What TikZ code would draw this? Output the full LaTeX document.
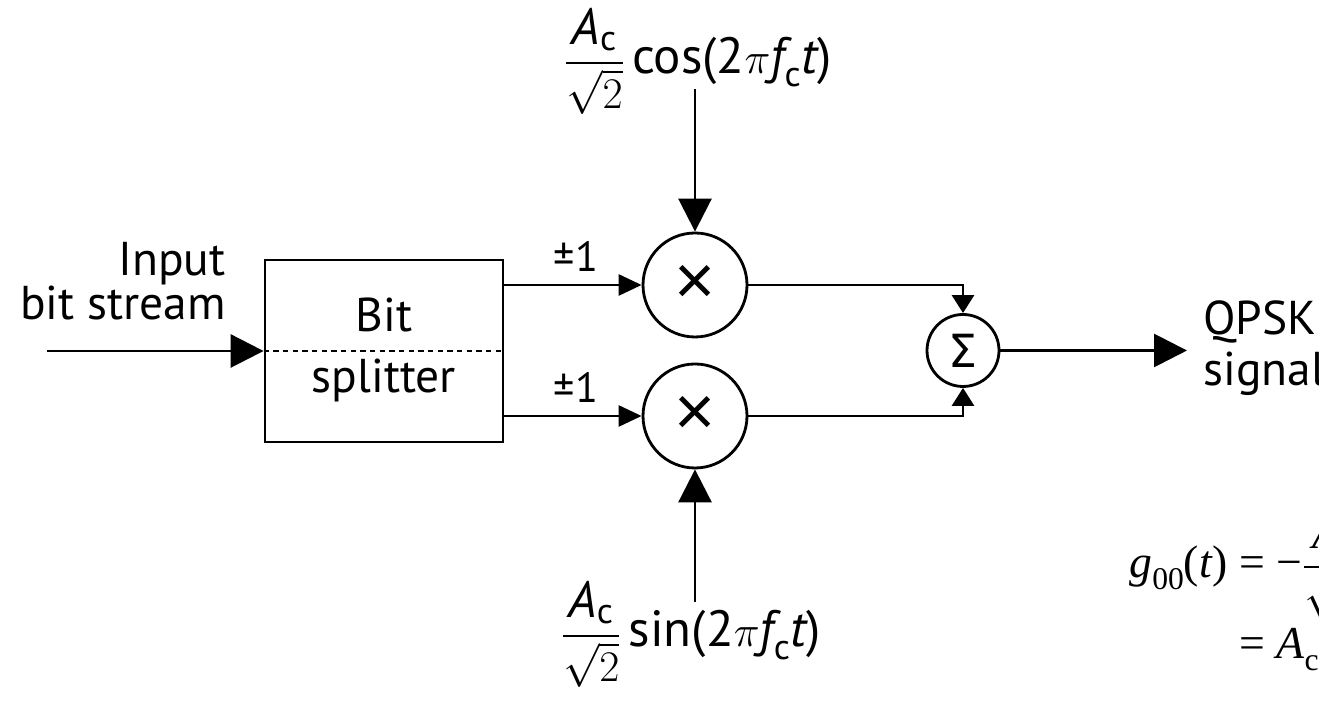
\documentclass[tikz,border=0pt]{standalone}
\usepackage{amsmath}
\usepackage{fontspec}
\setmainfont{PT Sans}
\newfontfamily\sigmafont{DejaVu Sans}
\newfontfamily\crossfont{Liberation Sans}
\newfontfamily\eqfont{Liberation Serif}
\newcommand{\eqsub}[1]{\raisebox{-0.25em}{\fontsize{18}{18}\selectfont #1}}
\usetikzlibrary{arrows.meta,positioning}

\begin{document}
\begin{tikzpicture}[
    line width=1.6pt,
    lbl/.style={inner sep=0pt, font=\fontsize{27}{25}\selectfont},
    sig/.style={inner sep=0pt, font=\fontsize{29}{29}\selectfont},
    eqn/.style={inner sep=0pt, font=\eqfont\fontsize{26}{26}\selectfont},
    mult/.style={circle, draw, minimum size=20.8mm, inner sep=0pt,
                 font=\crossfont\fontsize{40}{40}\selectfont},
    bigtip/.style={-{Triangle[length=6.6mm,width=6.6mm]}},
    smalltip/.style={-{Triangle[length=4.6mm,width=4.2mm]}},
    sumtip/.style={-{Triangle[length=3.6mm,width=4.4mm]}}
]
  \useasboundingbox (0,0) rectangle (26.38,14.04);
  \clip (0,0) rectangle (26.38,14.04);

  % blocks
  \node[draw, minimum width=47.6mm, minimum height=36.4mm] (split) at (7.68,7.02) {};
  \draw[line width=1pt, dash pattern=on 3pt off 2.5pt] (split.west) -- (split.east);
  \node[lbl, anchor=base] (bitl) at (7.68,7.4) {Bit};
  \node[lbl, anchor=base] (splitl) at (7.68,6.18) {splitter};
  \node[mult] (mcos) at (13.9,8.34) {×};
  \node[mult] (msin) at (13.9,5.72) {×};
  \node[circle, draw, minimum size=14.4mm, inner sep=0pt,
        font=\sigmafont\fontsize{26}{26}\selectfont] (sum) at (19.26,7.03) {Σ};

  % labels
  \node[lbl, align=right, anchor=south east] (inlbl) at (4.54,7.62) {Input\\bit stream};
  \node[lbl, align=left, anchor=north west] (outlbl) at (24.04,8.06) {QPSK\\[4pt]signal};
  \node[lbl, font=\fontsize{24}{24}\selectfont, anchor=base] (pmcos) at (11.52,8.6) {±1};
  \node[lbl, font=\fontsize{24}{24}\selectfont, anchor=base] (pmsin) at (11.52,5.98) {±1};
  \node[sig, anchor=base] (cosl) at (13.96,12.56)
    {$\dfrac{\textit{A}_{\text{c}}}{\sqrt{2}}\,\text{cos(2}\pi\textit{f}_{\text{c}}\textit{t}\text{)}$};
  \node[sig, anchor=base] (sinl) at (13.82,1.1)
    {$\dfrac{\textit{A}_{\text{c}}}{\sqrt{2}}\,\text{sin(2}\pi\textit{f}_{\text{c}}\textit{t}\text{)}$};

  \coordinate (inp) at (0.94,7.02);
  \coordinate (out) at (23.74,7.03);
  \coordinate (costop) at (13.9,12.26);
  \coordinate (sinbot) at (13.9,2.0);

  % connectors
  \draw[bigtip] (inp) -- (split.west);
  \draw[smalltip] (split.east |- mcos) -- (mcos);
  \draw[smalltip] (split.east |- msin) -- (msin);
  \draw[bigtip] (costop) -- (mcos);
  \draw[bigtip] (sinbot) -- (msin);
  \draw[sumtip] (mcos) -| (sum);
  \draw[sumtip] (msin) -| (sum);
  \draw[bigtip] (sum) -- (out);

  % formula (cut off at the right)
  \node[eqn, anchor=base west] (geq) at (22.56,2.48)
    {\textit{g}\eqsub{00}(\textit{t}) = −$\dfrac{\textit{A}_{\text{c}}}{\sqrt{\text{2}}}$};
  \node[eqn, anchor=base west] (aeq) at (24.76,0.86)
    {= \textit{A}\eqsub{c}};
\end{tikzpicture}
\end{document}
